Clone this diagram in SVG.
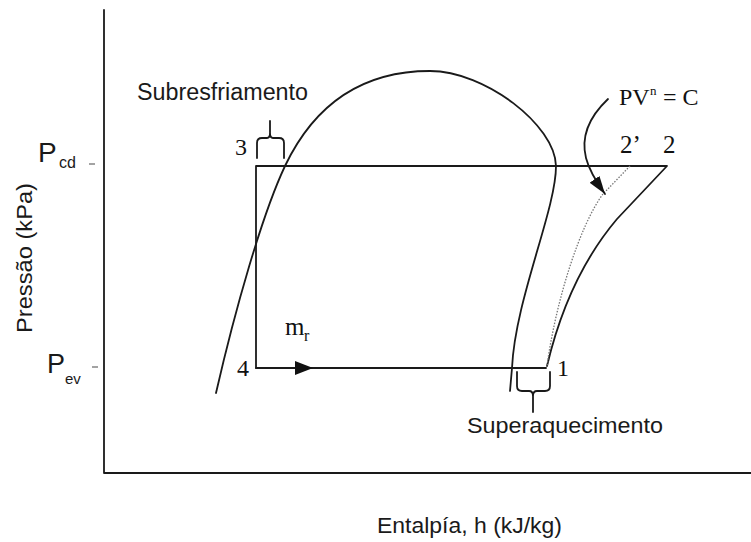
<svg xmlns="http://www.w3.org/2000/svg" width="751" height="542" viewBox="0 0 751 542">
<style>
.ln{fill:none;stroke:#1a1a1a;stroke-width:1.8;stroke-linejoin:round;stroke-linecap:round}
.dot{fill:none;stroke:#777;stroke-width:1.3;stroke-dasharray:1.5 1.5}
.tick{stroke:#666;stroke-width:1.2}
.sans{font-family:"Liberation Sans",Arial,sans-serif;fill:#1a1a1a}
.serif{font-family:"Liberation Serif","Times New Roman",serif;fill:#111}
</style>
<defs>
<marker id="ah" markerUnits="userSpaceOnUse" markerWidth="18" markerHeight="12" viewBox="0 0 18 12" refX="18" refY="6" orient="auto">
<path d="M0,0 L18,6 L0,12 z" fill="#111"/>
</marker>
</defs>
<rect width="751" height="542" fill="#fff"/>
<g id="axes">
<path class="ln" d="M104,10 L104,473 L751,473"/>
<line class="tick" x1="89" y1="164" x2="95" y2="164"/>
<line class="tick" x1="92" y1="367" x2="98" y2="367"/>
</g>
<g id="dome">
<path class="ln" d="M216,393 C235,310 262,215 285,166 C318,97 370,71 430,71 C485,71 555,125 556,166 C556,210 515,300 512,368 L510,391"/>
</g>
<g id="connectors">
<path class="ln" d="M256,368 L256,166 L667,166 L617,219 C595,245 565,290 547,366"/>
<path class="ln" d="M256,368 L546,368"/>
<polygon points="295,361 313,368 295,375" fill="#111"/>
<path class="dot" d="M630,166 L603,194 C580,225 556,300 547,366"/>
<path class="ln" d="M608,99 C588,118 581,138 586,158 C589,170 595,180 605,194" marker-end="url(#ah)"/>
<path class="ln" d="M257,158 L257,143 Q257,138 262,138 L267,138 Q270,138 270,133 L270,121 M270,133 Q270,138 273,138 L279,138 Q284,138 284,143 L284,158"/>
<path class="ln" d="M517,372 L517,386 Q517,391 522,391 L529,391 Q533,391 533,396 L533,412 M533,396 Q533,391 537,391 L545,391 Q550,391 550,386 L550,372"/>
</g>
<g id="labels">
<text class="sans" x="137" y="100" font-size="23" textLength="171" lengthAdjust="spacingAndGlyphs">Subresfriamento</text>
<text class="sans" x="467" y="433" font-size="22" textLength="196" lengthAdjust="spacingAndGlyphs">Superaquecimento</text>
<text class="sans" x="377" y="533" font-size="22" textLength="185" lengthAdjust="spacingAndGlyphs">Entalpía, h (kJ/kg)</text>
<text class="sans" font-size="22" text-anchor="middle" textLength="150" lengthAdjust="spacingAndGlyphs" transform="translate(32,258) rotate(-90)">Pressão (kPa)</text>
<text class="sans" x="38" y="162" font-size="28">P</text>
<text class="sans" x="59" y="168" font-size="16">cd</text>
<text class="sans" x="47" y="373" font-size="27">P</text>
<text class="sans" x="65" y="384" font-size="15">ev</text>
<text class="serif" x="235" y="155" font-size="24">3</text>
<text class="serif" x="237" y="376" font-size="24">4</text>
<text class="serif" x="557" y="376" font-size="24">1</text>
<text class="serif" x="620" y="153" font-size="25">2’</text>
<text class="serif" x="663" y="153" font-size="25">2</text>
<text class="serif" font-size="24"><tspan x="619" y="105">PV</tspan><tspan x="650" y="95" font-size="13">n</tspan><tspan x="663" y="105">= C</tspan></text>
<text class="serif" font-size="25"><tspan x="285" y="335">m</tspan><tspan x="304" y="341" font-size="16">r</tspan></text>
</g>
</svg>
